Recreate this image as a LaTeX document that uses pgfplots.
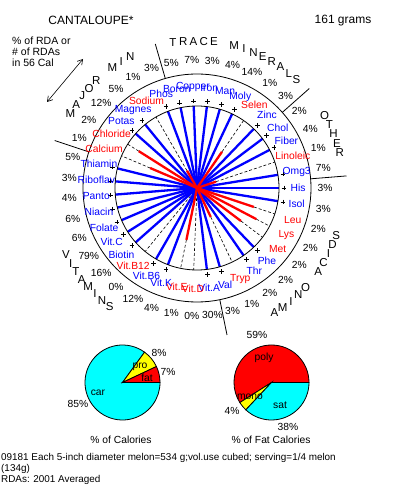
\documentclass[border=0pt]{standalone}
\usepackage{pgfplots}
\pgfplotsset{compat=1.18}
\usepackage{fontspec}
\setmainfont{Liberation Sans}
\usetikzlibrary{arrows.meta}
\definecolor{bl}{RGB}{0,0,255}
\definecolor{rd}{RGB}{255,0,0}
\definecolor{cy}{RGB}{0,255,255}
\definecolor{ye}{RGB}{255,255,0}
\newcommand\lf{\fontsize{10.3}{12}\selectfont}
\newcommand\gf{\fontsize{11.5}{13}\selectfont}
% blue spoke (capped at the circle)
\newcommand\B[1]{\addplot[bl,line width=2.3pt,data cs=polar] coordinates {(#1,0) (#1,82)};}
% dashed remainder for red items
\newcommand\D[2]{\addplot[black,dash pattern=on 3pt off 2pt,line width=0.6pt,data cs=polar] coordinates {(#1,#2) (#1,82)};}
% red spoke
\newcommand\R[2]{\addplot[rd,line width=2.3pt,data cs=polar] coordinates {(#1,0) (#1,#2)};}
\begin{document}
\begin{tikzpicture}
\begin{axis}[x=1pt,y=1pt,xmin=-197,xmax=196,ymin=-299,ymax=188,hide axis,clip=false]
\path (rel axis cs:0,0) rectangle (rel axis cs:1,1);
\coordinate (C) at (axis cs:0,0);
% dashed lines
\D{-18.46}{60}\D{-27.69}{67}\D{-36.92}{55}\D{-64.62}{32}\D{-92.31}{0}\D{-101.54}{53}
\D{-129.23}{0}\D{156.92}{51}\D{147.69}{69}\D{120}{20}\D{55.38}{44}\D{18.46}{20}
% blue spokes
\B{0}\B{-9.23}\B{-46.15}\B{-55.38}\B{-73.85}\B{-83.08}\B{-110.77}\B{-120}
\B{-138.46}\B{-147.69}\B{-156.92}\B{-166.15}\B{-175.38}\B{175.38}\B{166.15}
\B{138.46}\B{129.23}\B{110.77}\B{101.54}\B{92.31}\B{83.08}\B{73.85}\B{64.62}
\B{46.15}\B{36.92}\B{27.69}\B{9.23}
% red spokes
\R{-18.46}{60}\R{-27.69}{67}\R{-36.92}{55}\R{-64.62}{32}\R{-101.54}{53}
\R{156.92}{51}\R{147.69}{69}\R{120}{20}\R{55.38}{44}\R{18.46}{20}
% plus marks
\addplot[only marks,mark=+,mark size=2.3pt,black,line width=0.5pt,data cs=polar] coordinates {
(0,87) (-9.23,87) (-46.15,87) (-55.38,87) (-73.85,87) (-83.08,87) (-110.77,87) (-120,87)
(-138.46,87) (-147.69,87) (-156.92,87) (-166.15,87) (-175.38,87) (175.38,87) (166.15,87)
(138.46,87) (129.23,87) (110.77,87) (101.54,87) (92.31,87) (83.08,87) (73.85,87) (64.62,87)
(46.15,87) (36.92,87) (27.69,87) (9.23,87)};
% pies
\filldraw[fill=cy,draw=black,line width=0.8pt] (axis cs:-74.5,-194.5) -- ++(54:37.5pt) arc[start angle=54,end angle=360,radius=37.5pt] -- cycle;
\filldraw[fill=ye,draw=black,line width=0.8pt] (axis cs:-74.5,-194.5) -- ++(25.2:37.5pt) arc[start angle=25.2,end angle=54,radius=37.5pt] -- cycle;
\filldraw[fill=rd,draw=black,line width=0.8pt] (axis cs:-74.5,-194.5) -- ++(0:37.5pt) arc[start angle=0,end angle=25.2,radius=37.5pt] -- cycle;
\filldraw[fill=rd,draw=black,line width=0.8pt] (axis cs:74.5,-194.5) -- ++(0:37.5pt) arc[start angle=0,end angle=212.4,radius=37.5pt] -- cycle;
\filldraw[fill=ye,draw=black,line width=0.8pt] (axis cs:74.5,-194.5) -- ++(212.4:37.5pt) arc[start angle=212.4,end angle=226.8,radius=37.5pt] -- cycle;
\filldraw[fill=cy,draw=black,line width=0.8pt] (axis cs:74.5,-194.5) -- ++(226.8:37.5pt) arc[start angle=226.8,end angle=360,radius=37.5pt] -- cycle;
\end{axis}
% circles and separators
\draw[black,line width=0.8pt] (C) circle[radius=82pt];
\draw[black,line width=0.8pt] (C) circle[radius=114pt];
\foreach \a in {106.15,41.54,4.62,-78.46,161.54} {\draw[black,line width=0.8pt] (C) ++(\a:114pt) -- ++(\a:36pt);}
% inner labels
\foreach \a/\t/\c in {0/His/bl, -9.23/Isol/bl, -18.46/Leu/rd, -27.69/Lys/rd, -36.92/Met/rd, -46.15/Phe/bl, -55.38/Thr/bl, -64.62/Tryp/rd, -73.85/Val/bl, -83.08/Vit.A/bl, -92.31/Vit.D/rd, -101.54/Vit.E/rd, -110.77/Vit.K/bl, -120/Vit.B6/bl, -129.23/Vit.B12/rd, -138.46/Biotin/bl, -147.69/Vit.C/bl, -156.92/Folate/bl, -166.15/Niacin/bl, -175.38/Panto/bl, 175.38/Riboflav/bl, 166.15/Thiamin/bl, 156.92/Calcium/rd, 147.69/Chloride/rd, 138.46/Potas/bl, 129.23/Magnes/bl, 120/Sodium/rd, 110.77/Phos/bl, 101.54/Boron/bl, 92.31/Copper/bl, 83.08/Iron/bl, 73.85/Man/bl, 64.62/Moly/bl, 55.38/Selen/rd, 46.15/Zinc/bl, 36.92/Chol/bl, 27.69/Fiber/bl, 18.46/Linoleic/rd, 9.23/Omg3/bl}
{\path (C) ++(\a:101pt) node[text=\c,font=\lf,inner sep=0pt] {\t};}
% outer percentages
\foreach \a/\t in {0/3, -9.23/3, -18.46/2, -27.69/2, -36.92/2, -46.15/2, -55.38/2, -64.62/1, -73.85/3, -83.08/30, -92.31/0, -101.54/1, -110.77/4, -120/12, -129.23/0, -138.46/16, -147.69/79, -156.92/6, -166.15/6, -175.38/4, 175.38/3, 166.15/5, 156.92/1, 147.69/2, 138.46/12, 129.23/5, 120/1, 110.77/3, 101.54/5, 92.31/7, 83.08/3, 73.85/4, 64.62/14, 55.38/1, 46.15/3, 36.92/2, 27.69/4, 18.46/1, 9.23/7}
{\path (C) ++(\a:128pt) node[font=\lf,inner sep=0pt] {\t\%};}
% group letters
\foreach \a/\t in {149.4/M, 145.3/A, 141.3/J, 137.2/O, 133.2/R, 125.1/M, 121.0/I, 117.0/N,
 99.4/T, 95.4/R, 91.4/A, 87.4/C, 83.4/E, 75.4/M, 71.4/I, 67.4/N, 63.4/E, 59.4/R, 55.4/A, 51.4/L, 47.4/S,
 29.7/O, 25.7/T, 21.8/H, 17.8/E, 13.9/R,
 -58.2/A, -54.3/M, -50.3/I, -46.4/N, -42.4/O, -34.5/A, -30.6/C, -26.6/I, -22.7/D, -18.7/S,
 -153.0/V, -149.2/I, -145.4/T, -141.6/A, -137.8/M, -134.0/I, -130.2/N, -126.4/S}
{\path (C) ++(\a:147pt) node[font=\gf,inner sep=0pt] {\t};}
% titles
\path (C) ++(-106pt,168pt) node[font=\fontsize{12}{14}\selectfont,inner sep=0pt] {CANTALOUPE*};
\path (C) ++(146pt,167pt) node[font=\fontsize{12}{14}\selectfont,inner sep=0pt] {161 grams};
\path (C) ++(-185pt,151pt) node[anchor=north west,align=left,font=\fontsize{10.5}{11}\selectfont,inner sep=0pt] {\% of RDA or\\\# of RDAs\\in 56 Cal};
\draw[{Straight Barb[length=5pt,width=6pt]}-{Straight Barb[length=5pt,width=6pt]},line width=0.6pt] (C) ++(-150pt,86pt) -- ++(36pt,43pt);
% pie labels
\begin{scope}[every node/.style={font=\lf,inner sep=0pt}]
\path (C) ++(-57pt,-179pt) node {pro};
\path (C) ++(-50pt,-190pt) node {fat};
\path (C) ++(-99pt,-205pt) node {car};
\path (C) ++(-38pt,-165pt) node {8\%};
\path (C) ++(-29pt,-184pt) node {7\%};
\path (C) ++(-119pt,-216pt) node {85\%};
\path (C) ++(-76pt,-252pt) node {\% of Calories};
\path (C) ++(67pt,-170pt) node {poly};
\path (C) ++(53pt,-209pt) node {mono};
\path (C) ++(83pt,-217pt) node {sat};
\path (C) ++(60pt,-147pt) node {59\%};
\path (C) ++(35pt,-223pt) node {4\%};
\path (C) ++(91pt,-239pt) node {38\%};
\path (C) ++(74pt,-252pt) node {\% of Fat Calories};
\end{scope}
\begin{scope}[every node/.style={font=\fontsize{9.9}{10}\selectfont,inner sep=0pt,anchor=base west}]
\path (C) ++(-196pt,-273pt) node {09181 Each 5-inch diameter melon=534 g;vol.use cubed; serving=1/4 melon};
\path (C) ++(-196pt,-283.5pt) node {(134g)};
\path (C) ++(-196pt,-294pt) node {RDAs: 2001 Averaged};
\end{scope}
\end{tikzpicture}
\end{document}
